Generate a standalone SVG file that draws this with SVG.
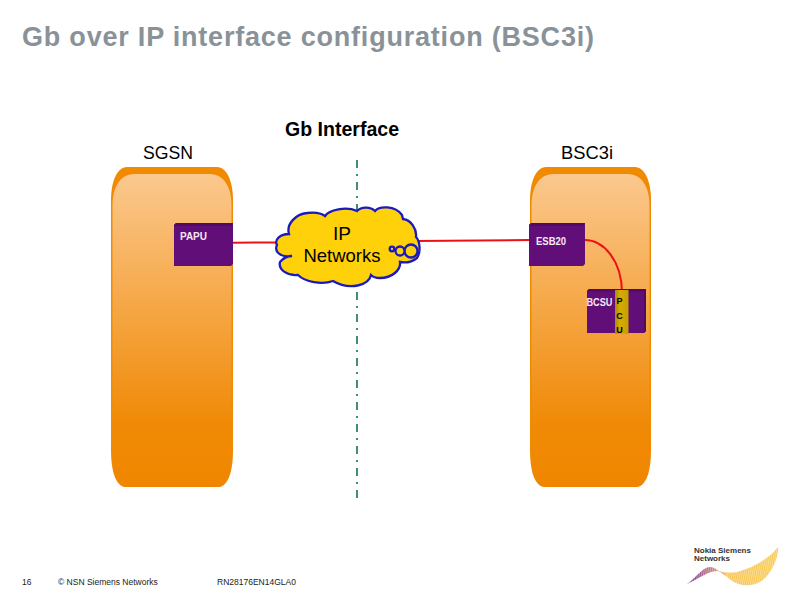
<svg xmlns="http://www.w3.org/2000/svg" width="800" height="600" viewBox="0 0 800 600">
<style>
text{font-family:"Liberation Sans",Arial,sans-serif}
.rack{fill:url(#rg)}
.rim{fill:#f08a00}
.box{fill:#620e78}
.boxt{fill:#4f0b62}
.boxl{fill:#f4e8f4;font-size:10.500px;font-weight:bold}
.cap{font-size:19px;fill:#000}
.wire{fill:none;stroke:#ee1018;stroke-width:2}
.cl{fill:#ffd10a;stroke:#1a1ac0;stroke-width:2.300}
.pc{font-size:9px;font-weight:bold;fill:#000;text-anchor:middle}
</style>
<defs>
<linearGradient id="rg" x1="0" y1="0" x2="0" y2="1"><stop offset="0" stop-color="#fbc88e"/><stop offset=".8" stop-color="#f08a06"/><stop offset="1" stop-color="#f08600"/></linearGradient>
<linearGradient id="pcu" x1="0" y1="0" x2="1" y2="0"><stop offset="0" stop-color="#a88a10"/><stop offset=".35" stop-color="#d4ac00"/><stop offset="1" stop-color="#c8a000"/></linearGradient>
<linearGradient id="sw" x1="686" y1="0" x2="778" y2="0" gradientUnits="userSpaceOnUse"><stop offset="0" stop-color="#6a2a90"/><stop offset=".15" stop-color="#a05a90"/><stop offset=".35" stop-color="#d89070"/><stop offset=".45" stop-color="#f8c458"/><stop offset="1" stop-color="#f8cc50"/></linearGradient>
<pattern id="st" width="2" height="4" patternUnits="userSpaceOnUse" patternTransform="rotate(10)"><rect width="2" height="4" fill="#fff"/><rect width="0.500" height="4" fill="#444"/></pattern>
<mask id="sm" maskUnits="userSpaceOnUse" x="680" y="540" width="105" height="50"><rect x="680" y="540" width="105" height="50" fill="url(#st)"/></mask>
</defs>
<rect width="800" height="600" fill="#fff"/>
<text x="22" y="46" font-size="27" font-weight="bold" fill="#8a9299" textLength="572" lengthAdjust="spacing">Gb over IP interface configuration (BSC3i)</text>
<text x="342" y="136" text-anchor="middle" font-size="20" font-weight="bold" textLength="114" lengthAdjust="spacingAndGlyphs">Gb Interface</text>
<g id="axis"><line x1="357" y1="160" x2="357" y2="498" stroke="#3f8f78" stroke-width="2" stroke-dasharray="8 6 2 6"/></g>
<g id="sgsn">
<path class="rim" d="M111 450V200C111 182 117 167 127 167H217C227 167 233 182 233 200V450C233 472 228 487 218 487H126C116 487 111 472 111 450Z"/>
<path class="rack" d="M112.500 450V205C112.500 188 120 174 134 174H210C224 174 231.500 188 231.500 205V450C231.500 472 227 487 218 487H126C117 487 112.500 472 112.500 450Z"/>
<text class="cap" x="168" y="159" text-anchor="middle" textLength="50" lengthAdjust="spacingAndGlyphs">SGSN</text>
</g>
<g id="bsc3i">
<path class="rim" d="M530 450V200C530 182 536 167 546 167H635C645 167 651 182 651 200V450C651 472 646 487 636 487H545C535 487 530 472 530 450Z"/>
<path class="rack" d="M531.500 450V205C531.500 188 539 174 553 174H628C642 174 649.500 188 649.500 205V450C649.500 472 645 487 636 487H545C536 487 531.500 472 531.500 450Z"/>
<text class="cap" x="587" y="159" text-anchor="middle" textLength="52" lengthAdjust="spacingAndGlyphs">BSC3i</text>
</g>
<g id="connectors">
<path class="wire" d="M233 242.700L279 242.500"/>
<path class="wire" d="M416 241L529 240"/>
<path class="wire" d="M585 240C603 240 622 260 622 293"/>
</g>
<g id="papu">
<path class="box" d="M174 225L176 223H233V264L231 266H174Z"/>
<path class="boxt" d="M174 225L176 223H233L231 226H174Z"/>
<text class="boxl" x="180" y="240" textLength="27" lengthAdjust="spacingAndGlyphs">PAPU</text>
</g>
<g id="esb20">
<path class="box" d="M529 225L531 223H585V264L583 266H529Z"/>
<path class="boxt" d="M529 225L531 223H585L583 226H529Z"/>
<text class="boxl" x="536" y="245" textLength="30" lengthAdjust="spacingAndGlyphs">ESB20</text>
</g>
<g id="bcsu">
<path class="box" d="M587 291L589 289H646V331L644 333H587Z"/>
<path class="boxt" d="M644 291L646 289V331L644 333Z"/>
<path class="boxt" d="M587 291L589 289H646L644 291.500H587Z"/>
<text class="boxl" x="586.500" y="306" textLength="26" lengthAdjust="spacingAndGlyphs">BCSU</text>
</g>
<g id="pcu">
<rect x="615" y="290" width="13.500" height="44" fill="url(#pcu)"/>
<text class="pc" x="619.500" y="304">P</text>
<text class="pc" x="619.500" y="319">C</text>
<text class="pc" x="619.500" y="333">U</text>
</g>
<g id="cloud">
<path class="cl" d="M289 234C286 224 296 214 307 213C314 212 321 213 325 216C329 210 346 206 357 211C361 207 370 206 375 211C379 206 395 205 402 215L403 219C411 220 417 229 416 237C420 241 421 252 417 258C412 262 405 263 400 262C401 270 392 278 380 278C376 278 373 277 371 275C369 285 350 291 333 281C322 285 305 282 298 275C288 276 278 270 280 262C284 257 288 256 292 256C280 258 274 251 277 245C274 240 280 234 289 234Z"/>
<circle class="cl" cx="411" cy="251" r="6.500"/>
<circle class="cl" cx="400" cy="251" r="4.500"/>
<circle class="cl" cx="392" cy="249" r="2.300"/>
<text x="342" y="240" text-anchor="middle" font-size="19" textLength="18" lengthAdjust="spacingAndGlyphs">IP</text>
<text x="342" y="262" text-anchor="middle" font-size="19" textLength="77" lengthAdjust="spacingAndGlyphs">Networks</text>
</g>
<g id="footer">
<text x="22" y="585" font-size="8.500" fill="#222">16</text>
<text x="58" y="585" font-size="8.500" fill="#222">© NSN Siemens Networks</text>
<text x="217" y="585" font-size="8.500" fill="#222">RN28176EN14GLA0</text>
</g>
<g id="logo">
<text x="694" y="553" font-size="8" font-weight="bold" fill="#333">Nokia Siemens</text>
<text x="694" y="561" font-size="8" font-weight="bold" fill="#333">Networks</text>
<path d="M686 584.500C694 580 698 572 707 567.500C711 566 715 568 718 570.500C724 573 732 573 737 572C750 569 768 560 778 547C779 556 772 573 763 580C756 585 748 586 743 585C736 584 730 580 726 576C722 574 720 571 718 571C710 571 702 576 695 580Z" fill="url(#sw)" mask="url(#sm)"/>
</g>
</svg>
